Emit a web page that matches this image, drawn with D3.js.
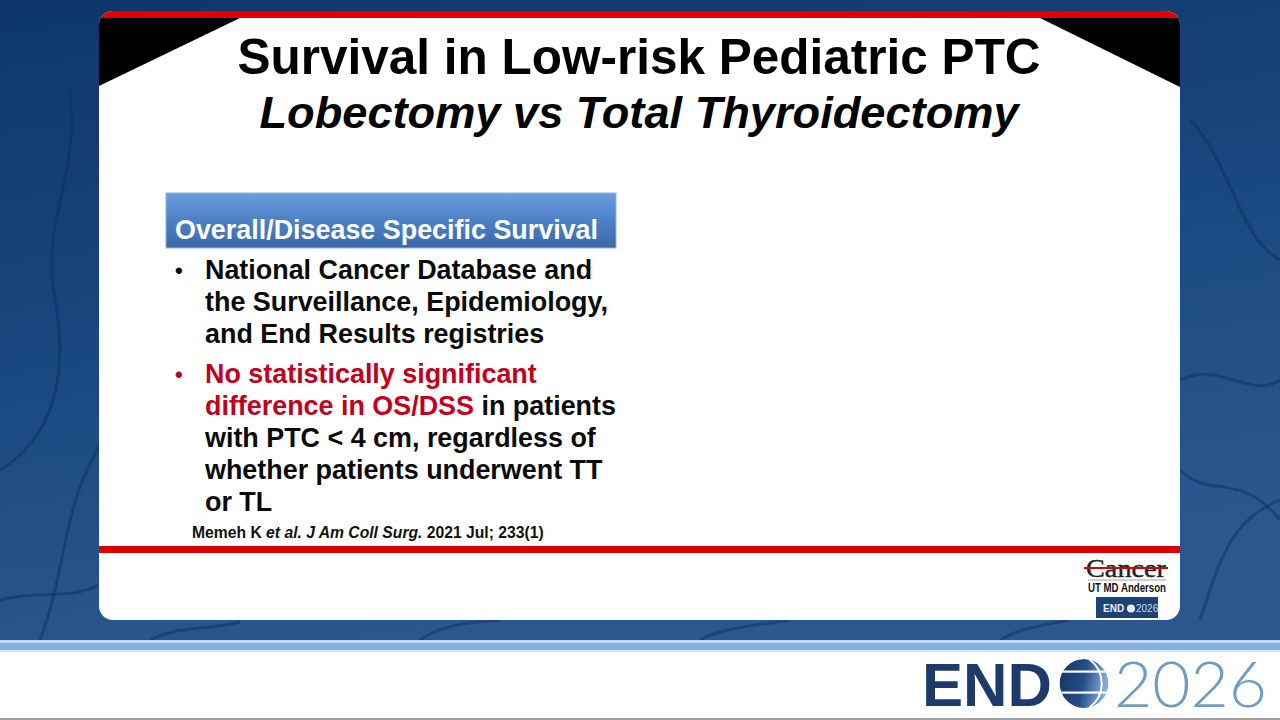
<!DOCTYPE html>
<html>
<head>
<meta charset="utf-8">
<script src="https://cdn.jsdelivr.net/npm/d3@7"></script>
<style>
  html, body { margin: 0; padding: 0; background: #fff; }
  svg { display: block; }
</style>
</head>
<body>
<div id="slide"></div>
<script>
// slide content
var titleLines = ["Survival in Low-risk Pediatric PTC", "Lobectomy vs Total Thyroidectomy"];
var sectionLabel = "Overall/Disease Specific Survival";
var bulletOne = [
    [["National Cancer Database and", "black"]],
    [["the Surveillance, Epidemiology,", "black"]],
    [["and End Results registries", "black"]]
];
var bulletTwo = [
    [["No statistically significant", "red"]],
    [["difference in OS/DSS", "red"], [" in patients", "black"]],
    [["with PTC < 4 cm, regardless of", "black"]],
    [["whether patients underwent TT", "black"]],
    [["or TL", "black"]]
];
var citation = [["Memeh K ", "normal"], ["et al. J Am Coll Surg.", "italic"], [" 2021 Jul; 233(1)", "normal"]];
var logoWords = ["Cancer", "UT MD Anderson"];
var endoWord = ["END", "2026"];

var colors = { black: "#0a0a0a", red: "#c0001f" };

function drawSlide() {
    var width = 1280, height = 720;

    var svg = d3.select("#slide").append("svg")
        .attr("width", width)
        .attr("height", height);

    var defs = svg.append("defs");

    var bg = defs.append("linearGradient").attr("id", "bgGrad")
        .attr("x1", "0").attr("y1", "0").attr("x2", "0.3").attr("y2", "1");
    bg.append("stop").attr("offset", "0%").attr("stop-color", "#0e366b");
    bg.append("stop").attr("offset", "55%").attr("stop-color", "#1a4880");
    bg.append("stop").attr("offset", "100%").attr("stop-color", "#2a588e");

    var box = defs.append("linearGradient").attr("id", "boxGrad")
        .attr("x1", "0").attr("y1", "0").attr("x2", "0").attr("y2", "1");
    box.append("stop").attr("offset", "0%").attr("stop-color", "#6c9fdc");
    box.append("stop").attr("offset", "45%").attr("stop-color", "#4f83c7");
    box.append("stop").attr("offset", "100%").attr("stop-color", "#3a69ab");

    var globe = defs.append("linearGradient").attr("id", "globeGrad")
        .attr("x1", "0").attr("y1", "0").attr("x2", "1").attr("y2", "0.2");
    globe.append("stop").attr("offset", "0%").attr("stop-color", "#1a3461");
    globe.append("stop").attr("offset", "55%").attr("stop-color", "#244d88");
    globe.append("stop").attr("offset", "100%").attr("stop-color", "#86abd9");

    defs.append("clipPath").attr("id", "cardClip")
        .append("rect")
        .attr("x", 99).attr("y", 11).attr("width", 1081).attr("height", 609).attr("rx", 14);

    var gx = 1084, gy = 683.5, gr = 24.5;
    defs.append("clipPath").attr("id", "globeClip")
        .append("circle").attr("cx", gx).attr("cy", gy).attr("r", gr);

    // blue background
    svg.append("rect")
        .attr("width", width).attr("height", 641)
        .attr("fill", "url(#bgGrad)");

    // faint veins in the background
    var veins = [
        "M0,470 C50,440 70,380 55,300 S80,180 70,90",
        "M40,640 C70,560 60,500 110,430",
        "M0,600 C40,590 70,600 99,585",
        "M1180,380 C1220,360 1250,400 1280,380",
        "M1180,470 C1210,500 1240,470 1280,520",
        "M1200,620 C1220,560 1230,520 1280,500",
        "M1190,120 C1230,160 1240,240 1280,260",
        "M150,640 C180,625 210,630 240,622",
        "M420,640 C440,625 470,622 500,620",
        "M700,640 C720,628 760,625 790,620",
        "M1000,640 C1020,628 1040,626 1070,620"
    ];
    svg.append("g").selectAll("path")
        .data(veins)
        .enter()
        .append("path")
        .attr("d", function(d) { return d; })
        .attr("fill", "none")
        .attr("stroke", "#0c2c58")
        .attr("stroke-width", 3)
        .style("opacity", 0.45);

    // bottom band and white footer
    svg.append("rect").attr("x", 0).attr("y", 640).attr("width", width).attr("height", 3).attr("fill", "#c4daf1");
    svg.append("rect").attr("x", 0).attr("y", 643).attr("width", width).attr("height", 7).attr("fill", "#86afdc");
    svg.append("rect").attr("x", 0).attr("y", 650).attr("width", width).attr("height", 2).attr("fill", "#d8e7f6");
    svg.append("rect").attr("x", 0).attr("y", 652).attr("width", width).attr("height", 66).attr("fill", "#ffffff");
    svg.append("rect").attr("x", 0).attr("y", 718).attr("width", width).attr("height", 2).attr("fill", "#a0a0a0");

    // white card
    var card = svg.append("g").attr("clip-path", "url(#cardClip)");
    card.append("rect")
        .attr("x", 99).attr("y", 11).attr("width", 1081).attr("height", 609)
        .attr("fill", "#ffffff");
    card.append("rect")
        .attr("x", 99).attr("y", 11).attr("width", 1081).attr("height", 7)
        .attr("fill", "#e00000");
    card.append("path")
        .attr("d", "M99,18 L240,18 L99,86 Z")
        .attr("fill", "#000000");
    card.append("path")
        .attr("d", "M1040,18 L1180,18 L1180,87 Z")
        .attr("fill", "#000000");
    card.append("rect")
        .attr("x", 99).attr("y", 546).attr("width", 1081).attr("height", 7)
        .attr("fill", "#dc0000");

    // titles
    svg.append("g").selectAll("text")
        .data(titleLines)
        .enter()
        .append("text")
        .attr("x", 639)
        .attr("y", function(d, i) { return i === 0 ? 74 : 128; })
        .attr("text-anchor", "middle")
        .style("font-family", "'Liberation Sans', Arial, sans-serif")
        .style("font-weight", "bold")
        .style("font-style", function(d, i) { return i === 0 ? "normal" : "italic"; })
        .style("font-size", function(d, i) { return i === 0 ? "49.5px" : "45.2px"; })
        .attr("fill", "#000")
        .text(function(d) { return d; });

    // section header box
    svg.append("rect")
        .attr("x", 166).attr("y", 193).attr("width", 450).attr("height", 55)
        .attr("fill", "url(#boxGrad)")
        .attr("stroke", "#8db4e6")
        .attr("stroke-width", 1);
    svg.append("text")
        .attr("x", 175).attr("y", 239)
        .style("font-family", "'Liberation Sans', Arial, sans-serif")
        .style("font-weight", "bold")
        .style("font-size", "26.9px")
        .attr("fill", "#ffffff")
        .text(sectionLabel);

    // bullet lines: index -> baseline
    var lines = [];
    bulletOne.forEach(function(segs, i) { lines.push({ bullet: 0, row: i, segs: segs }); });
    bulletTwo.forEach(function(segs, i) { lines.push({ bullet: 1, row: i, segs: segs }); });

    var lineY = d3.scaleLinear().domain([0, 1]).range([279, 311]);
    var bulletGap = 8;
    function baseline(d, i) { return lineY(i) + d.bullet * bulletGap; }

    var body = svg.append("g")
        .style("font-family", "'Liberation Sans', Arial, sans-serif")
        .style("font-weight", "bold")
        .style("font-size", "26.9px");

    body.selectAll("text.line")
        .data(lines)
        .enter()
        .append("text")
        .attr("class", "line")
        .attr("x", 205)
        .attr("y", baseline)
        .each(function(d) {
            var t = d3.select(this);
            d.segs.forEach(function(s) {
                t.append("tspan").attr("fill", colors[s[1]]).text(s[0]);
            });
        });

    body.selectAll("text.dot")
        .data(lines.filter(function(d) { return d.row === 0; }))
        .enter()
        .append("text")
        .attr("class", "dot")
        .attr("x", 175)
        .attr("y", function(d) { return lineY(bulletOne.length * d.bullet) + d.bullet * bulletGap - 1; })
        .attr("fill", function(d) { return colors[d.segs[0][1]]; })
        .style("font-size", "22px")
        .text("\u2022");

    // citation
    var cite = svg.append("text")
        .attr("x", 192).attr("y", 538)
        .style("font-family", "'Liberation Sans', Arial, sans-serif")
        .style("font-weight", "bold")
        .style("font-size", "15.7px")
        .attr("fill", "#111");
    citation.forEach(function(s) {
        cite.append("tspan").style("font-style", s[1]).text(s[0]);
    });

    // MD Anderson logo
    svg.append("text")
        .attr("x", 1126).attr("y", 577)
        .attr("text-anchor", "middle")
        .attr("textLength", 80).attr("lengthAdjust", "spacingAndGlyphs")
        .style("font-family", "'Liberation Serif', 'DejaVu Serif', serif")
        .style("font-size", "25px")
        .attr("fill", "#222")
        .attr("stroke", "#222").attr("stroke-width", 0.4)
        .text(logoWords[0]);
    svg.append("line")
        .attr("x1", 1084).attr("x2", 1168).attr("y1", 568).attr("y2", 568)
        .attr("stroke", "#d40000").attr("stroke-width", 2);
    svg.append("line")
        .attr("x1", 1088).attr("x2", 1166).attr("y1", 580).attr("y2", 580)
        .attr("stroke", "#777").attr("stroke-width", 0.7);
    svg.append("text")
        .attr("x", 1127).attr("y", 592)
        .attr("text-anchor", "middle")
        .attr("textLength", 78).attr("lengthAdjust", "spacingAndGlyphs")
        .style("font-family", "'Liberation Sans Narrow', 'Liberation Sans', sans-serif")
        .style("font-weight", "bold")
        .style("font-size", "12px")
        .attr("fill", "#111")
        .text(logoWords[1]);
    svg.append("rect")
        .attr("x", 1096).attr("y", 597).attr("width", 62).attr("height", 21)
        .attr("fill", "#1f4275");
    svg.append("text")
        .attr("x", 1103).attr("y", 612)
        .style("font-family", "'Liberation Sans', sans-serif")
        .style("font-weight", "bold")
        .style("font-size", "10px")
        .attr("fill", "#e8eef8")
        .text(endoWord[0]);
    svg.append("circle").attr("cx", 1131).attr("cy", 608.5).attr("r", 4).attr("fill", "#e8eef8");
    svg.append("text")
        .attr("x", 1136).attr("y", 612)
        .style("font-family", "'Liberation Sans', sans-serif")
        .style("font-size", "10px")
        .attr("fill", "#c9d8ee")
        .text(endoWord[1]);

    // ENDO 2026 footer logo
    svg.append("text")
        .attr("x", 922).attr("y", 706)
        .attr("textLength", 130).attr("lengthAdjust", "spacingAndGlyphs")
        .style("font-family", "'Liberation Sans', Arial, sans-serif")
        .style("font-weight", "bold")
        .style("font-size", "61px")
        .attr("fill", "#1c3a6a")
        .text(endoWord[0]);

    var g = svg.append("g").attr("clip-path", "url(#globeClip)");
    g.append("circle").attr("cx", gx).attr("cy", gy).attr("r", gr).attr("fill", "url(#globeGrad)");
    [gy - 12, gy + 9].forEach(function(yy) {
        g.append("rect").attr("x", gx - gr).attr("y", yy - 1).attr("width", gr * 2).attr("height", 2.2).attr("fill", "#ffffff");
    });
    g.append("path")
        .attr("d", "M" + (gx + 5) + "," + (gy - gr) + " C" + (gx + 22) + "," + (gy - 12) + " " + (gx + 22) + "," + (gy + 12) + " " + (gx + 5) + "," + (gy + gr))
        .attr("fill", "none").attr("stroke", "#ffffff").attr("stroke-width", 2);

    svg.append("text")
        .attr("x", 1114).attr("y", 707)
        .attr("textLength", 153).attr("lengthAdjust", "spacingAndGlyphs")
        .style("font-family", "Lato, 'Open Sans', sans-serif")
        .style("font-weight", "300")
        .style("font-size", "64px")
        .attr("fill", "#6f9cc4")
        .text(endoWord[1]);
}

drawSlide();
</script>
</body>
</html>
